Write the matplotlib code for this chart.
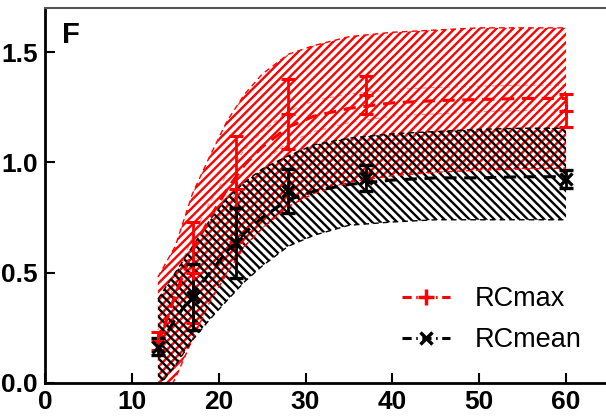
import matplotlib
matplotlib.use("Agg")
import matplotlib.pyplot as plt
import numpy as np

plt.rcParams['font.family'] = ['Liberation Sans', 'DejaVu Sans']
plt.rcParams['hatch.linewidth'] = 1.7

# measured data points
x_pts = [13, 17, 22, 28, 37, 60]
rcmax = [0.19, 0.50, 0.88, 1.22, 1.305, 1.235]
rcmax_err = [0.04, 0.23, 0.24, 0.16, 0.085, 0.075]
rcmean = [0.165, 0.39, 0.635, 0.87, 0.93, 0.925]
rcmean_err = [0.04, 0.15, 0.16, 0.10, 0.06, 0.04]

# fitted curves and bands
x_fit = [13, 15, 17, 19, 21, 23, 25, 28, 31, 35, 40, 45, 50, 55, 60]
max_fit = [0.17, 0.40, 0.60, 0.75, 0.88, 0.99, 1.07, 1.16, 1.21, 1.245, 1.27, 1.28, 1.285, 1.29, 1.29]
max_hi = [0.48, 0.62, 0.86, 1.03, 1.19, 1.31, 1.40, 1.49, 1.53, 1.57, 1.59, 1.60, 1.61, 1.61, 1.61]
max_lo = [-0.12, 0.02, 0.20, 0.37, 0.50, 0.62, 0.70, 0.80, 0.86, 0.91, 0.94, 0.955, 0.965, 0.97, 0.974]
max_ci_hi = [0.24, 0.46, 0.67, 0.82, 0.95, 1.06, 1.14, 1.23, 1.28, 1.31, 1.33, 1.34, 1.345, 1.35, 1.35]
max_ci_lo = [0.10, 0.34, 0.53, 0.68, 0.81, 0.92, 1.00, 1.09, 1.14, 1.18, 1.21, 1.22, 1.23, 1.235, 1.24]
mean_fit = [0.16, 0.29, 0.40, 0.50, 0.60, 0.68, 0.75, 0.83, 0.87, 0.90, 0.92, 0.93, 0.93, 0.935, 0.935]
mean_hi = [0.38, 0.50, 0.62, 0.74, 0.84, 0.91, 0.97, 1.03, 1.08, 1.11, 1.13, 1.14, 1.15, 1.155, 1.155]
mean_lo = [-0.02, 0.08, 0.195, 0.29, 0.376, 0.46, 0.53, 0.62, 0.67, 0.715, 0.73, 0.74, 0.74, 0.74, 0.74]

xticks = [0, 10, 20, 30, 40, 50, 60]
yticks = [0.0, 0.5, 1.0, 1.5]

fig = plt.figure(figsize=(6.06, 4.18), dpi=100)
ax = fig.add_axes([45/606, 35/418, 561/606, 375/418])

red = '#ff0000'
blk = '#000000'

ax.fill_between(x_fit, max_lo, max_hi, facecolor='none', edgecolor=red,
                hatch='////', linewidth=0, zorder=1)
ax.fill_between(x_fit, mean_lo, mean_hi, facecolor='none', edgecolor=blk,
                hatch='\\\\\\\\', linewidth=0, zorder=1)
for arr in (max_hi, max_lo):
    ax.plot(x_fit, arr, color=red, lw=1.0, ls=(0, (4, 3)), zorder=2)
for arr in (max_ci_hi, max_ci_lo):
    ax.plot(x_fit, arr, color=red, lw=0.8, ls=(0, (4, 3)), alpha=0.45, zorder=2)
for arr in (mean_hi, mean_lo):
    ax.plot(x_fit, arr, color=blk, lw=1.0, ls=(0, (4, 3)), zorder=2)

ax.plot(x_fit, max_fit, color=red, lw=2.2, ls=(0, (4, 2.5)), zorder=3)
ax.plot(x_fit, mean_fit, color=blk, lw=2.2, ls=(0, (4, 2.5)), zorder=3)

ax.errorbar(x_pts, rcmax, yerr=rcmax_err, fmt='+', color=red, ms=10, mew=2.2,
            elinewidth=2.0, capsize=5, capthick=2.0, zorder=4)
ax.errorbar(x_pts, rcmean, yerr=rcmean_err, fmt='x', color=blk, ms=8, mew=2.4,
            elinewidth=2.0, capsize=5, capthick=2.0, zorder=4)

# legend proxies
h1, = ax.plot([], [], color=red, lw=2.2, ls=(0, (3, 1.5, 0.5, 1.5)), marker='+', ms=11, mew=2.5)
h2, = ax.plot([], [], color=blk, lw=2.2, ls=(0, (3, 1.5, 0.5, 1.5)), marker='x', ms=8, mew=2.5)
leg = ax.legend([h1, h2], ['RCmax', 'RCmean'], loc='lower right',
                bbox_to_anchor=(1.0, 0.015), frameon=False, fontsize=19.5,
                handlelength=1.8, handletextpad=0.9, labelspacing=0.55)

ax.set_xlim(0, 64.6)
ax.set_ylim(0, 1.70)
ax.set_xticks(xticks)
ax.set_yticks(yticks)
ax.set_xticklabels([str(v) for v in xticks])
ax.set_yticklabels(['%.1f' % v for v in yticks])
ax.tick_params(direction='in', length=7, width=1.5, labelsize=19, pad=5)
for lab in ax.get_xticklabels() + ax.get_yticklabels():
    lab.set_fontweight('bold')

ax.spines['right'].set_visible(False)
ax.spines['left'].set_linewidth(2.0)
ax.spines['bottom'].set_linewidth(2.0)
ax.spines['top'].set_linewidth(1.5)
ax.spines['top'].set_color('#555555')

ax.text(0.03, 0.965, 'F', transform=ax.transAxes, fontsize=21, fontweight='bold',
        va='top', ha='left')

fig.savefig('out.png', dpi=100)
